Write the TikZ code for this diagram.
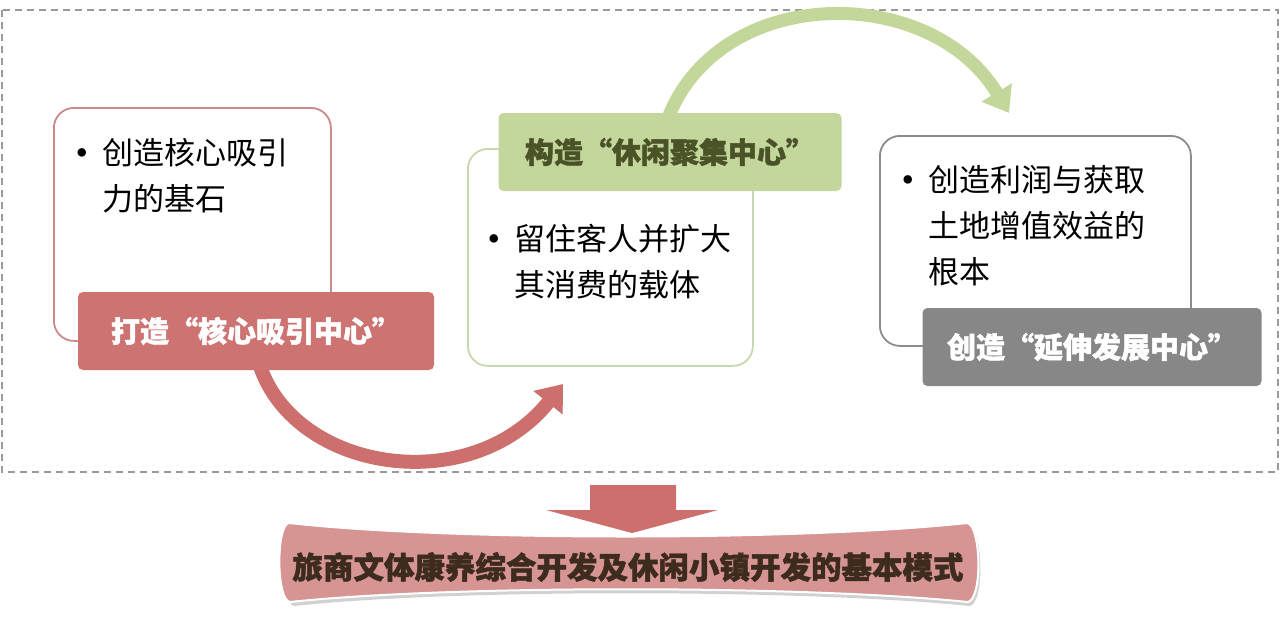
\documentclass[tikz,border=0pt]{standalone}
\usepackage{fontspec}
\newfontfamily\cjk{Noto Sans CJK SC}[BoldFeatures={FakeBold=1.6}]
\usetikzlibrary{arrows.meta}
\definecolor{redlbl}{HTML}{CD7371}
\definecolor{redline}{HTML}{C98A89}
\definecolor{redarrow}{HTML}{CD6F6D}
\definecolor{greenlbl}{HTML}{C3D69B}
\definecolor{greenline}{HTML}{C8D8AC}
\definecolor{greenarrow}{HTML}{C4D79B}
\definecolor{greentext}{HTML}{4A5228}
\definecolor{graylbl}{HTML}{878787}
\definecolor{grayline}{HTML}{8C8C8C}
\definecolor{dashgray}{HTML}{9A9A9A}
\definecolor{bannerfill}{HTML}{D69492}
\definecolor{bannertext}{HTML}{3D2B1F}
\newcommand{\bul}{\makebox[25pt][l]{\raisebox{8pt}{\fontsize{9.5}{10}\selectfont ●}}}
\begin{document}
\begin{tikzpicture}[x=1pt,y=-1pt,
  whitebox/.style={draw, line width=1.8pt, fill=white, rounded corners=20pt, anchor=north west, inner sep=0pt},
  lblbox/.style={rounded corners=5pt, inner sep=0pt, font=\cjk\bfseries\fontsize{29}{34}\selectfont},
  bullettext/.style={anchor=north west, align=left, inner sep=0pt, font=\cjk\fontsize{31}{46}\selectfont},
  bigarrow/.style={line width=14pt}
]
\useasboundingbox (0,0) rectangle (1280,619);
% dashed frame
\draw[dashgray, line width=1.3pt, dash pattern=on 7pt off 5pt] (2,10) rectangle (1278,472);

% white boxes
\node[whitebox, draw=redline, minimum width=277pt, minimum height=233pt] (b1) at (53,107) {};
\node[whitebox, draw=greenline, minimum width=285pt, minimum height=217pt] (b2) at (467,148) {};
\node[whitebox, draw=grayline, minimum width=311pt, minimum height=210pt] (b3) at (879,135) {};

% bullet texts
\node[bullettext] (t1) at (77,138) {\bul 创造核心吸引\\\hspace*{25pt}力的基石};
\node[bullettext] (t2) at (489,224) {\bul 留住客人并扩大\\\hspace*{25pt}其消费的载体};
\node[bullettext] (t3) at (903,165) {\bul 创造利润与获取\\\hspace*{25pt}土地增值效益的\\\hspace*{25pt}根本};

% connector coordinates
\coordinate (r1s) at (258,360);
\coordinate (r1e) at (563,384);
\coordinate (g1s) at (668,118);
\coordinate (g1e) at (1009,113);

% curved arrows
\draw[bigarrow, redarrow, -{Triangle[width=36pt,length=24pt]}] (r1s) .. controls (290,472) and (470,500) .. (r1e);
\draw[bigarrow, greenarrow, line width=13pt, -{Triangle[width=34pt,length=24pt]}] (g1s) .. controls (720,-16) and (930,-18) .. (g1e);

% labels
\node[lblbox, fill=redlbl, text=white, minimum width=356pt, minimum height=78pt] (l1) at (256,331) {打造“核心吸引中心”};
\node[lblbox, fill=greenlbl, text=greentext, minimum width=343pt, minimum height=78pt] (l2) at (670,152) {构造“休闲聚集中心”};
\node[lblbox, fill=graylbl, text=white, minimum width=339pt, minimum height=78pt] (l3) at (1092,347) {创造“延伸发展中心”};

% banner shadow and banner
\fill[black, opacity=0.18] (294,527) .. controls (450,544) and (800,544) .. (969,527)
  .. controls (983,529) and (985,602) .. (970,606)
  .. controls (800,589) and (450,589) .. (294,606)
  .. controls (280,604) and (280,529) .. (294,527) -- cycle;
\fill[bannerfill, draw=white, line width=2pt] (289,523) .. controls (450,541) and (800,541) .. (967,523)
  .. controls (981,525) and (983,598) .. (968,602)
  .. controls (800,585) and (450,585) .. (290,602)
  .. controls (276,600) and (276,525) .. (289,523) -- cycle;
\node[inner sep=0pt, text=bannertext, font=\cjk\bfseries\fontsize{30.5}{34}\selectfont] (bn) at (628,567) {旅商文体康养综合开发及休闲小镇开发的基本模式};

% down arrow
\fill[redarrow] (590,485) -- (676,485) -- (676,510) -- (718,510) -- (632,533) -- (546,510) -- (590,510) -- cycle;
\end{tikzpicture}
\end{document}
